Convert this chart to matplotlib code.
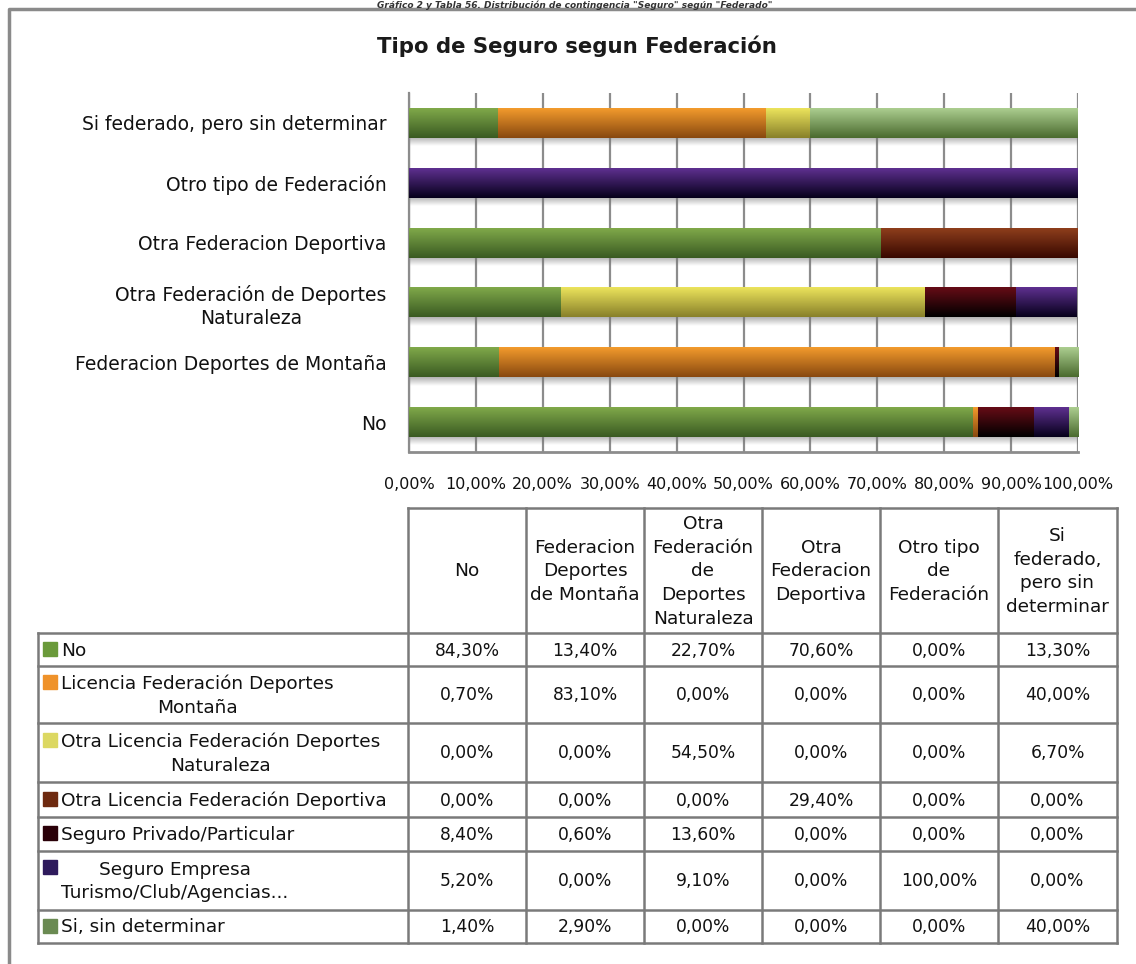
import numpy as np
import matplotlib
matplotlib.use("Agg")
import matplotlib.pyplot as plt
from matplotlib.colors import to_rgb
from matplotlib.patches import Rectangle

plt.rcParams['font.family'] = ['DejaVu Sans']

# federations (bar rows, bottom to top) and table columns
federaciones = ["No", "Federacion Deportes de Montaña",
                "Otra Federación de Deportes\nNaturaleza",
                "Otra Federacion Deportiva", "Otro tipo de Federación",
                "Si federado, pero sin determinar"]
col_headers = ["No", "Federacion\nDeportes\nde Montaña",
               "Otra\nFederación\nde\nDeportes\nNaturaleza",
               "Otra\nFederacion\nDeportiva", "Otro tipo\nde\nFederación",
               "Si\nfederado,\npero sin\ndeterminar"]

# insurance types (series)
seguros = ["No", "Licencia Federación Deportes\nMontaña",
           "Otra Licencia Federación Deportes\nNaturaleza",
           "Otra Licencia Federación Deportiva",
           "Seguro Privado/Particular",
           "Seguro Empresa\nTurismo/Club/Agencias...",
           "Si, sin determinar"]

no_seguro = [84.3, 13.4, 22.7, 70.6, 0.0, 13.3]
lic_montana = [0.7, 83.1, 0.0, 0.0, 0.0, 40.0]
lic_naturaleza = [0.0, 0.0, 54.5, 0.0, 0.0, 6.7]
lic_deportiva = [0.0, 0.0, 0.0, 29.4, 0.0, 0.0]
privado = [8.4, 0.6, 13.6, 0.0, 0.0, 0.0]
empresa = [5.2, 0.0, 9.1, 0.0, 100.0, 0.0]
sin_determinar = [1.4, 2.9, 0.0, 0.0, 0.0, 40.0]
series = [no_seguro, lic_montana, lic_naturaleza, lic_deportiva,
          privado, empresa, sin_determinar]

# gradient (top, bottom) for bars and swatch colour for the table
grad_colors = [("#80a94a", "#3a5a22"), ("#f39b2d", "#88480f"),
               ("#ece45c", "#88802a"), ("#8e3e1c", "#380800"),
               ("#660c16", "#000000"), ("#5e3090", "#06001a"),
               ("#acce90", "#4a6a2e")]
swatch = ["#6a9a3a", "#ef922a", "#dcd862", "#6e2a10",
          "#2a0008", "#2e1a5c", "#6a8a52"]

W, H = 1136, 964
fig = plt.figure(figsize=(W / 100, H / 100), dpi=100)

# background axes in pixel coords for frame and table
bg = fig.add_axes([0, 0, 1, 1])
bg.set_xlim(0, W)
bg.set_ylim(H, 0)
bg.axis("off")
bg.plot([9, 9, W], [H, 9, 9], color="#8a8a8a", lw=2.5)
bg.text(575, 0.5, "Gráfico 2 y Tabla 56. Distribución de contingencia \"Seguro\" según \"Federado\"",
        ha="center", va="top", fontsize=6.5, fontweight="bold", style="italic",
        color="#333333")
bg.text(577, 46, "Tipo de Seguro segun Federación", ha="center", va="center",
        fontsize=15.3, fontweight="bold", color="#1a1a1a")

# bar chart
ax = fig.add_axes([409 / W, 1 - 452 / H, 669 / W, (452 - 93) / H])
y = np.arange(len(federaciones))
left = np.zeros(len(federaciones))
for vals, (ctop, cbot) in zip(series, grad_colors):
    vals = np.array(vals)
    bars = ax.barh(y, vals, left=left, height=0.5, color=cbot,
                   edgecolor="none", zorder=3)
    t = np.linspace(0, 1, 64)[:, None]
    grad = (1 - t) * np.array(to_rgb(cbot)) + t * np.array(to_rgb(ctop))
    grad = grad[:, None, :]
    for p in bars:
        if p.get_width() <= 0:
            continue
        x0, y0 = p.get_x(), p.get_y()
        im = ax.imshow(grad, extent=[x0, x0 + p.get_width(), y0, y0 + p.get_height()],
                       aspect="auto", origin="lower", zorder=4, interpolation="bilinear")
        im.set_clip_path(p)
    left += vals

# soft shadows under the bars
shadow = np.zeros((32, 1, 4))
shadow[:, 0, :3] = 0.45
shadow[:, 0, 3] = np.linspace(0, 0.55, 32)
for yi, tot in zip(y, left):
    ax.imshow(shadow, extent=[0, tot, yi - 0.25 - 0.14, yi - 0.25],
              aspect="auto", origin="lower", zorder=2, interpolation="bilinear")

ax.set_xlim(0, 100)
ax.set_ylim(-0.5, len(federaciones) - 0.5)
ax.set_xticks(np.arange(0, 101, 10))
ax.set_xticklabels([f"{v:.2f}%".replace(".", ",") for v in np.arange(0, 101, 10)],
                   fontsize=11.5, color="#111111")
ax.set_yticks(y)
ax.set_yticklabels(federaciones, fontsize=13.5, color="#111111",
                   multialignment="center", linespacing=1.3)
ax.tick_params(length=0)
ax.tick_params(axis="x", pad=18)
ax.tick_params(axis="y", pad=16)
ax.grid(axis="x", color="#8c8c8c", lw=1.6, zorder=1)
ax.set_axisbelow(True)
for s in ["top", "right"]:
    ax.spines[s].set_visible(False)
ax.spines["left"].set_color("#8c8c8c")
ax.spines["bottom"].set_color("#8c8c8c")
ax.spines["left"].set_linewidth(1.6)
ax.spines["bottom"].set_linewidth(2)

# data table
cols = [38, 408, 526, 644, 762, 880, 998, 1117]
rows = [633, 666, 723, 782, 817, 851, 910, 943]
head_top = 508
lc = "#7a7a7a"
tkw = dict(color=lc, lw=1.8)
for x in cols[1:]:
    bg.plot([x, x], [head_top, rows[-1]], **tkw)
bg.plot([cols[1], cols[-1]], [head_top, head_top], **tkw)
bg.plot([cols[0], cols[0]], [rows[0], rows[-1]], **tkw)
for yy in rows:
    bg.plot([cols[0], cols[-1]], [yy, yy], **tkw)

for j, hdr in enumerate(col_headers):
    cx = (cols[j + 1] + cols[j + 2]) / 2
    bg.text(cx, (head_top + rows[0]) / 2 + 1, hdr, ha="center", va="center",
            fontsize=13.3, color="#111111", linespacing=1.4, multialignment="center")

for i, (name, vals) in enumerate(zip(seguros, series)):
    r0, r1 = rows[i], rows[i + 1]
    cy = (r0 + r1) / 2
    if "\n" in name:
        sy = r0 + 16 if name.startswith("Seguro Empresa") else cy - 13
    else:
        sy = cy - 1
    bg.add_patch(Rectangle((43, sy - 7), 14, 14, color=swatch[i], zorder=3))
    bg.text(61, cy + 1, name, ha="left", va="center", fontsize=13.3, color="#111111",
            multialignment="center", linespacing=1.4)
    for j, v in enumerate(vals):
        cx = (cols[j + 1] + cols[j + 2]) / 2
        bg.text(cx, cy + 1, f"{v:.2f}%".replace(".", ","), ha="center", va="center",
                fontsize=12.3, color="#111111")

fig.savefig("out.png", dpi=100)
